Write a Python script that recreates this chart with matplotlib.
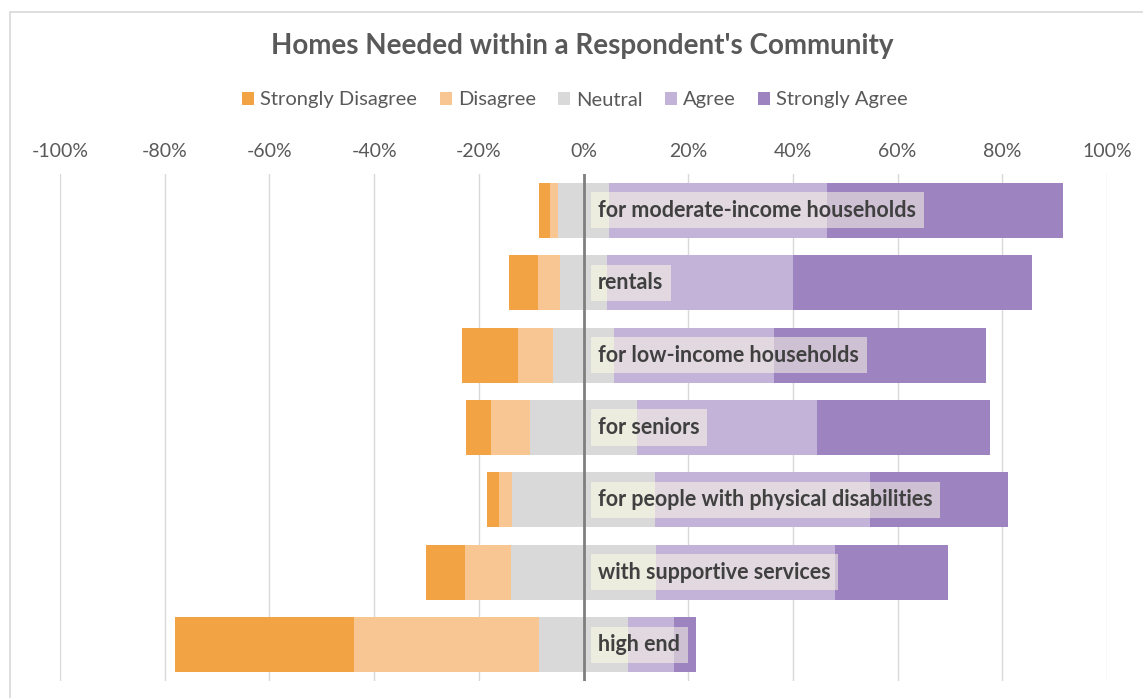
import numpy as np
import matplotlib.pyplot as plt
from matplotlib.patches import Rectangle
from matplotlib.ticker import FuncFormatter

plt.rcParams['font.family'] = ['Lato', 'DejaVu Sans']

# survey answers, share of respondents in %
categories = ['for moderate-income households', 'rentals', 'for low-income households',
              'for seniors', 'for people with physical disabilities',
              'with supportive services', 'high end']
strongly_disagree = [2.0, 5.6, 10.6, 4.6, 2.4, 7.5, 34.3]
disagree = [1.6, 4.2, 6.7, 7.5, 2.4, 8.8, 35.2]
neutral = [9.7, 9.0, 11.8, 20.5, 27.4, 27.7, 17.1]
agree = [41.6, 35.5, 30.4, 34.4, 41.1, 34.1, 8.7]
strongly_agree = [45.1, 45.7, 40.5, 33.0, 26.3, 21.6, 4.2]

levels = ['Strongly Disagree', 'Disagree', 'Neutral', 'Agree', 'Strongly Agree']
colors = ['#F2A444', '#F7C692', '#D9D9D9', '#C3B3D9', '#9D83C0']
xticks = [-100, -80, -60, -40, -20, 0, 20, 40, 60, 80, 100]

fig = plt.figure(figsize=(11.43, 6.98), dpi=100)
ax = fig.add_axes([60 / 1143, 1 - 681 / 698, 1047 / 1143, 507 / 698])

series = [strongly_disagree, disagree, neutral, agree, strongly_agree]
y = np.arange(len(categories))
# neutral is split around zero
left = -(np.array(strongly_disagree) + np.array(disagree) + np.array(neutral) / 2)
for vals, lab, col in zip(series, levels, colors):
    ax.barh(y, vals, left=left, height=0.76, color=col, label=lab, zorder=2)
    left = left + np.array(vals)

ax.axvline(0, color='#7F7F7F', lw=2, zorder=3)

for i, cat in enumerate(categories):
    ax.text(2.8, i, cat, ha='left', va='center', fontsize=15.5, fontweight='bold',
            color='#404040', zorder=5,
            bbox=dict(boxstyle='square,pad=0.35', facecolor='#FFFFE6', edgecolor='none', alpha=0.5))

ax.set_xlim(-100, 100)
ax.set_ylim(len(categories) - 0.5, -0.5)
ax.set_xticks(xticks)
ax.xaxis.set_major_formatter(FuncFormatter(lambda v, p: '%d%%' % v))
ax.xaxis.tick_top()
ax.tick_params(axis='x', length=0, pad=10, labelsize=14, labelcolor='#595959')
ax.set_yticks([])
ax.grid(axis='x', color='#D9D9D9', lw=1, zorder=0)
ax.set_axisbelow(True)
for s in ax.spines.values():
    s.set_visible(False)

fig.text(0.509, 1 - 46 / 698, "Homes Needed within a Respondent's Community", ha='center', va='center',
         fontsize=20, fontweight='bold', color='#595959')

handles, labels = ax.get_legend_handles_labels()
fig.legend(handles, labels, loc='center', bbox_to_anchor=(0.503, 1 - 100 / 698), ncol=5,
           frameon=False, fontsize=14.5, handlelength=0.6, handleheight=0.6, handletextpad=0.3,
           columnspacing=1.1, labelcolor='#595959')

# chart area border
fig.patches.append(Rectangle((10 / 1143, -0.01), 1.0, 1 - 12 / 698 + 0.01, transform=fig.transFigure,
                             fill=False, edgecolor='#D9D9D9', lw=1.2))

fig.savefig('out.png', dpi=100)
